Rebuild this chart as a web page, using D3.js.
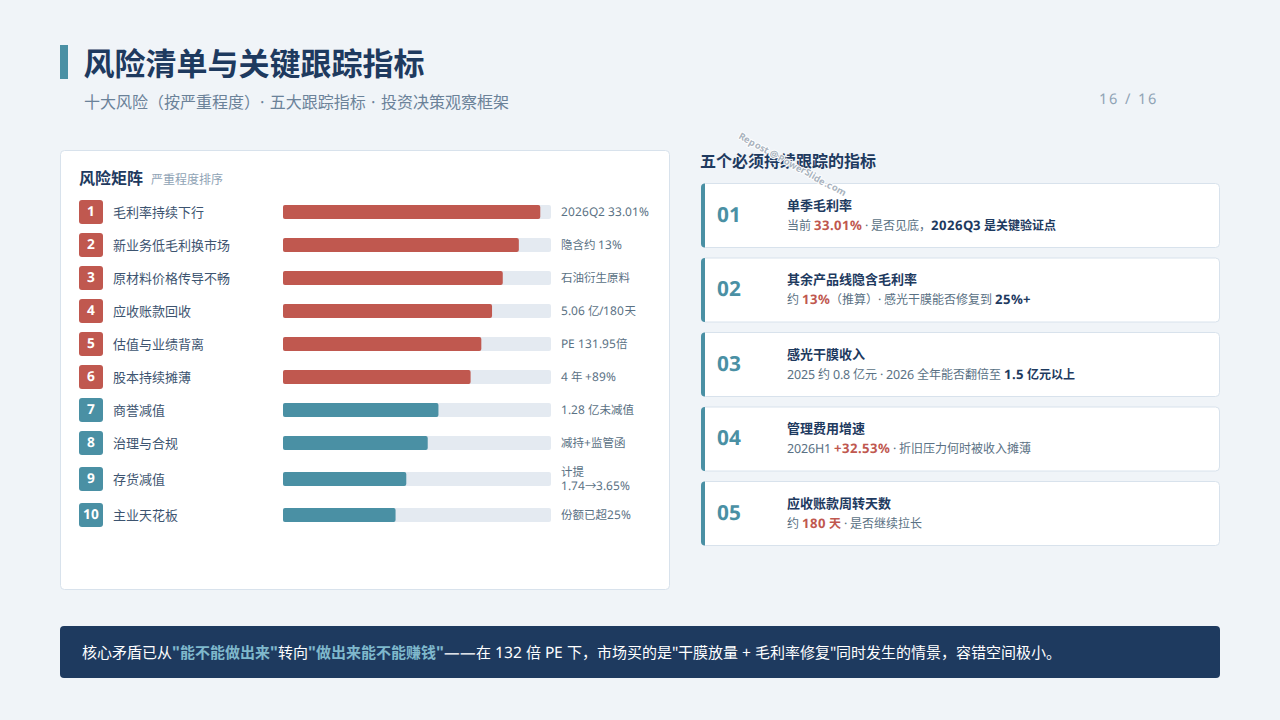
<!DOCTYPE html>
<html>
<head>
<meta charset="utf-8">
<script src="https://cdn.jsdelivr.net/npm/d3@7"></script>
<style>
@font-face{font-family:"LatinWide";src:local("Noto Sans Regular"),local("NotoSans-Regular");font-weight:400;size-adjust:104%;unicode-range:U+0020-024F,U+2010-2027;}
@font-face{font-family:"LatinWide";src:local("Noto Sans Bold");font-weight:700;size-adjust:109.5%;unicode-range:U+0020-024F,U+2010-2027;}
html,body{margin:0;padding:0;background:#f0f4f8;}
svg{display:block;}
text{font-family:"LatinWide","Noto Sans","Noto Sans CJK SC",sans-serif;text-spacing-trim:space-all;}
</style>
</head>
<body>
<div id="chart"></div>
<script>
const risks = ["毛利率持续下行","新业务低毛利换市场","原材料价格传导不畅","应收账款回收","估值与业绩背离","股本持续摊薄","商誉减值","治理与合规","存货减值","主业天花板"];
const scores = [96,88,82,78,74,70,58,54,46,42];
const notes = [["2026Q2 33.01%"],["隐含约 13%"],["石油衍生原料"],["5.06 亿/180天"],["PE 131.95倍"],["4 年 +89%"],["1.28 亿未减值"],["减持+监管函"],["计提","1.74→3.65%"],["份额已超25%"]];
const levels = ["high","high","high","high","high","high","mid","mid","mid","mid"];
const rowCentres = [212,245,278,311,344,377,410,443,479,515];

const indicatorNums = ["01","02","03","04","05"];
const indicatorTitles = ["单季毛利率","其余产品线隐含毛利率","感光干膜收入","管理费用增速","应收账款周转天数"];
// r = red bold, b = navy bold, plain = grey
const indicatorDesc = [
  [["当前 "],["33.01%","r"],[" · 是否见底，"],["2026Q3 是关键验证点","b"]],
  [["约 "],["13%","r"],["（推算）· 感光干膜能否修复到 "],["25%+","b"]],
  [["2025 约 0.8 亿元 · 2026 全年能否翻倍至 "],["1.5 亿元以上","b"]],
  [["2026H1 "],["+32.53%","r"],[" · 折旧压力何时被收入摊薄"]],
  [["约 "],["180 天","r"],[" · 是否继续拉长"]]
];
const footer = [["核心矛盾已从"],["\"能不能做出来\"","h"],["转向"],["\"做出来能不能赚钱\"","h"],["——在 132 倍 PE 下，市场买的是\"干膜放量 + 毛利率修复\"同时发生的情景，容错空间极小。"]];

const navy = "#1e3a5f", teal = "#4a90a4", red = "#c0584f", grey = "#5a7184", track = "#e4eaf1", line = "#d8e2ec";

const svg = d3.select("#chart").append("svg").attr("width",1280).attr("height",720);

svg.append("rect").attr("width",1280).attr("height",720).attr("fill","#f0f4f8");

// header
svg.append("rect").attr("x",60).attr("y",45).attr("width",8).attr("height",34).attr("fill",teal);
svg.append("text").attr("x",83.5).attr("y",74.5).attr("font-size",31).attr("font-weight",700).attr("fill",navy).text("风险清单与关键跟踪指标");
svg.append("text").attr("x",84).attr("y",108).attr("font-size",16).attr("word-spacing","1.7px").attr("fill","#6b8299").text("十大风险（按严重程度）· 五大跟踪指标 · 投资决策观察框架");
svg.append("text").attr("x",1099).attr("y",104).attr("font-size",14).attr("letter-spacing","2px").attr("fill","#8fa3b5").text("16 / 16");

// left card
svg.append("rect").attr("x",60.5).attr("y",150.5).attr("width",609).attr("height",439).attr("rx",4).attr("fill","#fff").attr("stroke",line);
svg.append("text").attr("x",79).attr("y",184).attr("font-size",16).attr("font-weight",700).attr("fill",navy).text("风险矩阵");
svg.append("text").attr("x",151).attr("y",184).attr("font-size",12).attr("fill","#8fa3b5").text("严重程度排序");

const x = d3.scaleLinear().domain([0,100]).range([283,551]);
const rows = svg.append("g").selectAll("g").data(risks).enter().append("g")
  .attr("transform",(d,i)=>`translate(0,${rowCentres[i]})`);

rows.append("rect").attr("x",79).attr("y",-12).attr("width",24).attr("height",24).attr("rx",3)
  .attr("fill",(d,i)=>levels[i]=="high"?red:teal);
rows.append("text").attr("x",91).attr("y",4).attr("text-anchor","middle").attr("font-size",12.5).attr("font-weight",700).attr("fill","#fff")
  .text((d,i)=>i+1);
rows.append("text").attr("x",113).attr("y",5).attr("font-size",13).attr("fill","#3d5470").text(d=>d);
rows.append("rect").attr("x",x(0)).attr("y",-7).attr("width",x(100)-x(0)).attr("height",14).attr("rx",2).attr("fill",track);
rows.append("rect").attr("x",x(0)).attr("y",-7).attr("width",(d,i)=>x(scores[i])-x(0)).attr("height",14).attr("rx",2)
  .attr("fill",(d,i)=>levels[i]=="high"?red:teal);
rows.append("text").attr("font-size",11.5).attr("fill",grey).each(function(d,i){
  const t = d3.select(this), n = notes[i];
  n.forEach((s,k)=>{
    t.append("tspan").attr("x",561).attr("y",4 + (k-(n.length-1)/2)*14.5).text(s);
  });
});

// right column
svg.append("text").attr("x",700).attr("y",167).attr("font-size",16).attr("font-weight",700).attr("fill",navy).text("五个必须持续跟踪的指标");

const cards = svg.append("g").selectAll("g").data(indicatorNums).enter().append("g")
  .attr("transform",(d,i)=>`translate(701,${183.5+i*74.5})`);
cards.append("rect").attr("x",0.5).attr("y",0).attr("width",518).attr("height",64).attr("rx",4).attr("fill","#fff").attr("stroke",line);
cards.append("path").attr("d","M4,0 V64 Q0,64 0,60 V4 Q0,0 4,0 Z").attr("fill",teal);
cards.append("text").attr("x",16).attr("y",38).attr("font-size",19).attr("font-weight",700).attr("fill",teal).text(d=>d);
cards.append("text").attr("x",86).attr("y",26).attr("font-size",13).attr("font-weight",700).attr("fill",navy).text((d,i)=>indicatorTitles[i]);
cards.append("text").attr("x",86).attr("y",46).attr("font-size",12).attr("fill",grey).each(function(d,i){
  d3.select(this).selectAll("tspan").data(indicatorDesc[i]).enter().append("tspan")
    .attr("font-weight",p=>p[1]?700:400)
    .attr("fill",p=>p[1]=="r"?red:p[1]=="b"?navy:grey)
    .text(p=>p[0]);
});

// footer
svg.append("rect").attr("x",60).attr("y",626).attr("width",1160).attr("height",52).attr("rx",4).attr("fill",navy);
svg.append("text").attr("x",82).attr("y",658).attr("font-size",15).attr("fill","#fff")
  .selectAll("tspan").data(footer).enter().append("tspan")
  .attr("font-weight",p=>p[1]?700:400)
  .attr("fill",p=>p[1]?"#7fb8cc":"#fff")
  .text(p=>p[0]);

// watermark
svg.append("text").attr("transform","translate(738,138) rotate(29)").attr("font-size",8.5).attr("font-weight",700).attr("fill","#a9b3be")
  .attr("stroke","#fff").attr("stroke-width",1.8).attr("paint-order","stroke")
  .text("Repost @ PowerSlide.com");
</script>
</body>
</html>
